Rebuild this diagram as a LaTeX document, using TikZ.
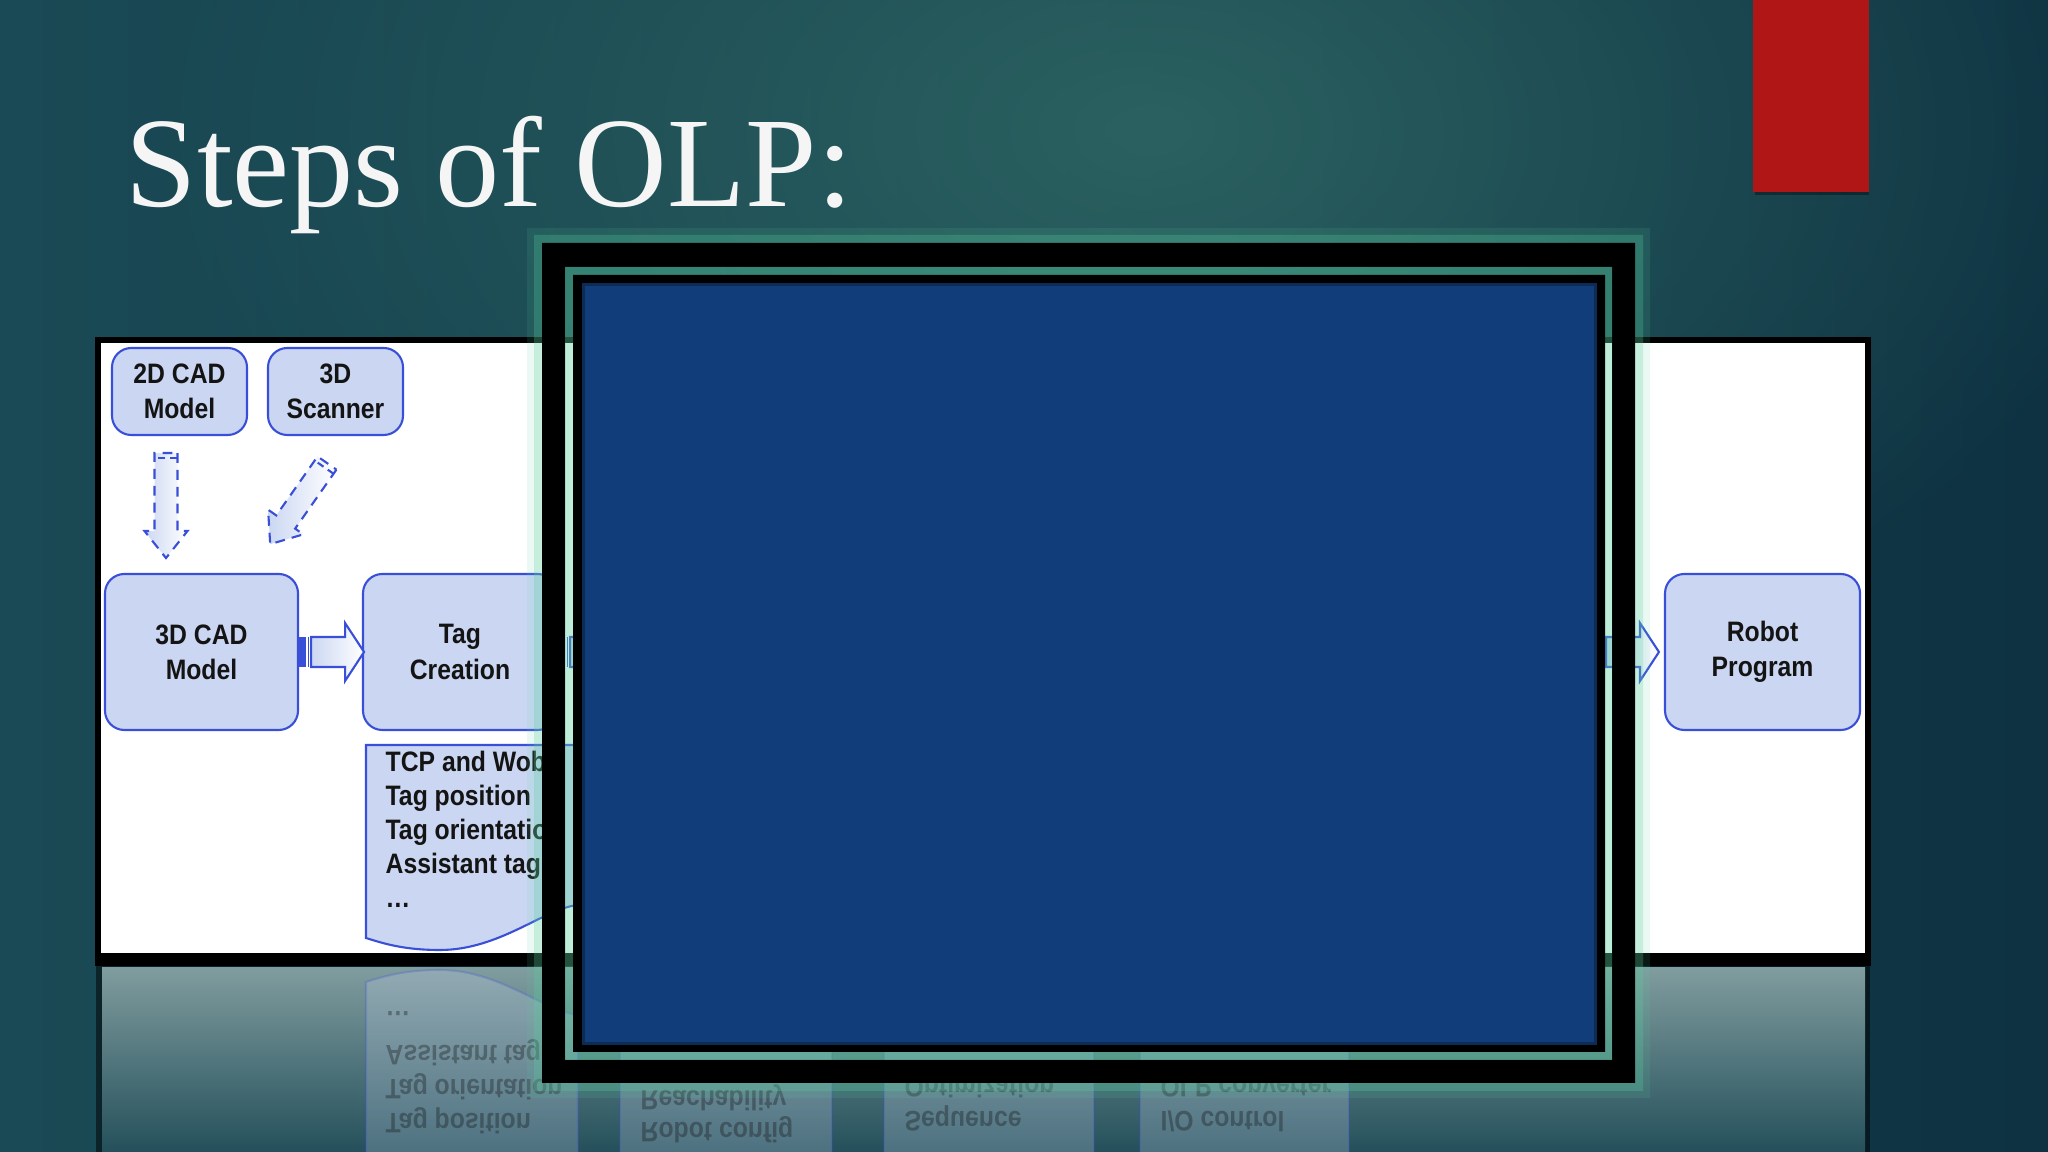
\documentclass[tikz,border=0pt]{standalone}
\usepackage{fontspec}
\setmainfont{Liberation Serif}
\newfontfamily\boxfont[FakeStretch=0.88]{Liberation Sans}
\usetikzlibrary{calc,fadings}

\definecolor{bgleft}{HTML}{1A4A55}
\definecolor{bgright}{HTML}{0E3242}
\definecolor{glowcol}{HTML}{336E68}
\definecolor{olpred}{HTML}{B01616}
\definecolor{olpblue}{HTML}{3A4FD8}
\definecolor{olpfill}{HTML}{CBD7F2}
\definecolor{coverblue}{HTML}{113E7A}
\definecolor{mintglow}{HTML}{5AD0A0}
\definecolor{reflecttop}{HTML}{809C9E}
\definecolor{reflectbot}{HTML}{24505B}

\tikzfading[name=glowfade, inner color=transparent!0, outer color=transparent!100]

\tikzset{
  stepbox/.style={draw=olpblue, fill=olpfill, line width=0.6pt, rounded corners=5.5pt,
    align=center, inner sep=0pt, text=black!92,
    font=\boxfont\bfseries\fontsize{8}{10}\selectfont},
  listline/.style={anchor=base west, inner sep=0pt, text=black!92,
    font=\boxfont\bfseries\fontsize{8}{10}\selectfont},
  doc/.style={draw=olpblue, fill=olpfill, line width=0.6pt},
  dasharrow/.style={draw=olpblue, line width=0.6pt, dash pattern=on 2.8pt off 2pt,
    left color=olpfill, right color=white},
  blockarrow/.style={draw=olpblue, line width=0.6pt, left color=olpfill, right color=white},
}

% tail, angle, length
\newcommand\hollowarrow[3]{%
  \begin{scope}[shift={#1}, rotate=#2]
    \draw[dasharrow] (0,-11.5) -- ({#3-27},-11.5) -- ({#3-27},-21.5) -- (#3,0)
      -- ({#3-27},21.5) -- ({#3-27},11.5) -- (0,11.5) -- cycle;
    \draw[olpblue, line width=.6pt, dash pattern=on 2pt off 1.5pt] (5,-11.5) -- (5,11.5);
  \end{scope}}
\newcommand\blockarrow[1]{%
  \begin{scope}[shift={#1}]
    \fill[olpblue] (0,-15) rectangle (7,15);
    \draw[olpblue, line width=.5pt] (9.5,-15) -- (9.5,15);
    \draw[blockarrow] (12,-15) -- (46,-15) -- (46,-29) -- (65,0) -- (46,29) -- (46,15) -- (12,15) -- cycle;
  \end{scope}}
\newcommand\tagdoc{%
  \draw[doc] (366,745) -- (578,745) -- (578,905)
    .. controls (545,908) and (500,950) .. (440,950)
    .. controls (405,950) and (385,944) .. (366,938) -- cycle;}

\begin{document}
\begin{tikzpicture}[x=0.1mm, y=-0.1mm]
  \useasboundingbox (0,0) rectangle (2048,1152);
  \clip (0,0) rectangle (2048,1152);

  % background
  \shade[left color=bgleft, right color=bgright] (0,0) rectangle (2048,1152);
  \fill[glowcol, path fading=glowfade, opacity=.75] (1150,130) ellipse (1000 and 620);
  \fill[olpred] (1753,0) rectangle (1869,192);
  \fill[black, opacity=.35] (1755,192) rectangle (1869,195);

  \node[anchor=base west, inner sep=0pt, text=white!92!gray,
    font=\fontsize{36.5}{40}\selectfont] (title) at (125,207) {Steps of OLP:};

  % white panel and its reflection
  \fill[black] (95,337) rectangle (1871,966);
  \fill[white] (101,343) rectangle (1865,953);
  \fill[black, opacity=.5] (96,966) rectangle (1870,1152);
  \shade[top color=reflecttop, bottom color=reflectbot] (102,968) rectangle (1865,1152);

  \begin{scope}[shift={(0,1920)}, yscale=-1, opacity=.25,
      every node/.append style={transform shape, text opacity=.35}]
    \tagdoc
    \foreach \txt [count=\i from 2] in {Tag position, Tag orientation, Assistant tags, \ldots}
      \node[listline] (rtl\i) at (385, {738+34*\i}) {\txt};
    \foreach \dx/\dw in {620/212, 884/210, 1140/209}
      \draw[doc] (\dx,745) rectangle ({\dx+\dw},945);
    \node[listline] (rrob) at (640,798) {Robot config};
    \node[listline] (rrea) at (640,829) {Reachability};
    \node[listline] (rseq) at (904,809) {Sequence};
    \node[listline] (ropt) at (904,843) {Optimization};
    \node[listline] (rio) at (1160,809) {I/O control};
    \node[listline] (rolp) at (1160,843) {OLP converter};
  \end{scope}

  % diagram
  \node[stepbox, minimum width=13.5mm, minimum height=8.7mm] (cad2d) at (179.5,391.5) {2D CAD\\Model};
  \node[stepbox, minimum width=13.5mm, minimum height=8.7mm] (scanner) at (335.5,391.5) {3D\\Scanner};
  \node[stepbox, minimum width=19.3mm, minimum height=15.6mm] (cad3d) at (201.5,652) {3D CAD\\Model};
  \node[stepbox, minimum width=19.4mm, minimum height=15.6mm] (tag) at (460,652) {Tag\\Creation};
  \node[stepbox, minimum width=19.5mm, minimum height=15.6mm] (robot) at (1762.5,652) {Robot\\Program};
  \coordinate (pre) at ($(robot.west)+(-70,0)$);

  \hollowarrow{($(cad2d.south)+(-13.5,17)$)}{-90}{105}
  \hollowarrow{($(scanner.south)+(-8.5,27)$)}{-125}{99}
  \blockarrow{(cad3d.east)}
  \blockarrow{(tag.east)}
  \blockarrow{(pre)}

  \tagdoc
  \foreach \txt [count=\i] in {TCP and Wobj, Tag position, Tag orientation, Assistant tags, \ldots}
    \node[listline] (tl\i) at (385, {738+34*\i}) {\txt};

  % covering frame
  \fill[mintglow, opacity=.12, even odd rule] (527,228) rectangle (1650,1098) (534,235) rectangle (1643,1091);
  \fill[mintglow, opacity=.35, even odd rule] (534,235) rectangle (1643,1091) (542,243) rectangle (1635,1083);
  \fill[black, even odd rule] (542,243) rectangle (1635,1083) (565,267) rectangle (1612,1060);
  \fill[mintglow, opacity=.4, even odd rule] (565,267) rectangle (1612,1060) (573,275) rectangle (1605,1052);
  \fill[black, even odd rule] (573,275) rectangle (1605,1052) (582,283) rectangle (1597,1045);
  \fill[coverblue] (582,283) rectangle (1597,1045);
  \draw[coverblue!70!black, line width=1pt] (583.5,284.5) rectangle (1595.5,1043.5);
\end{tikzpicture}
\end{document}
